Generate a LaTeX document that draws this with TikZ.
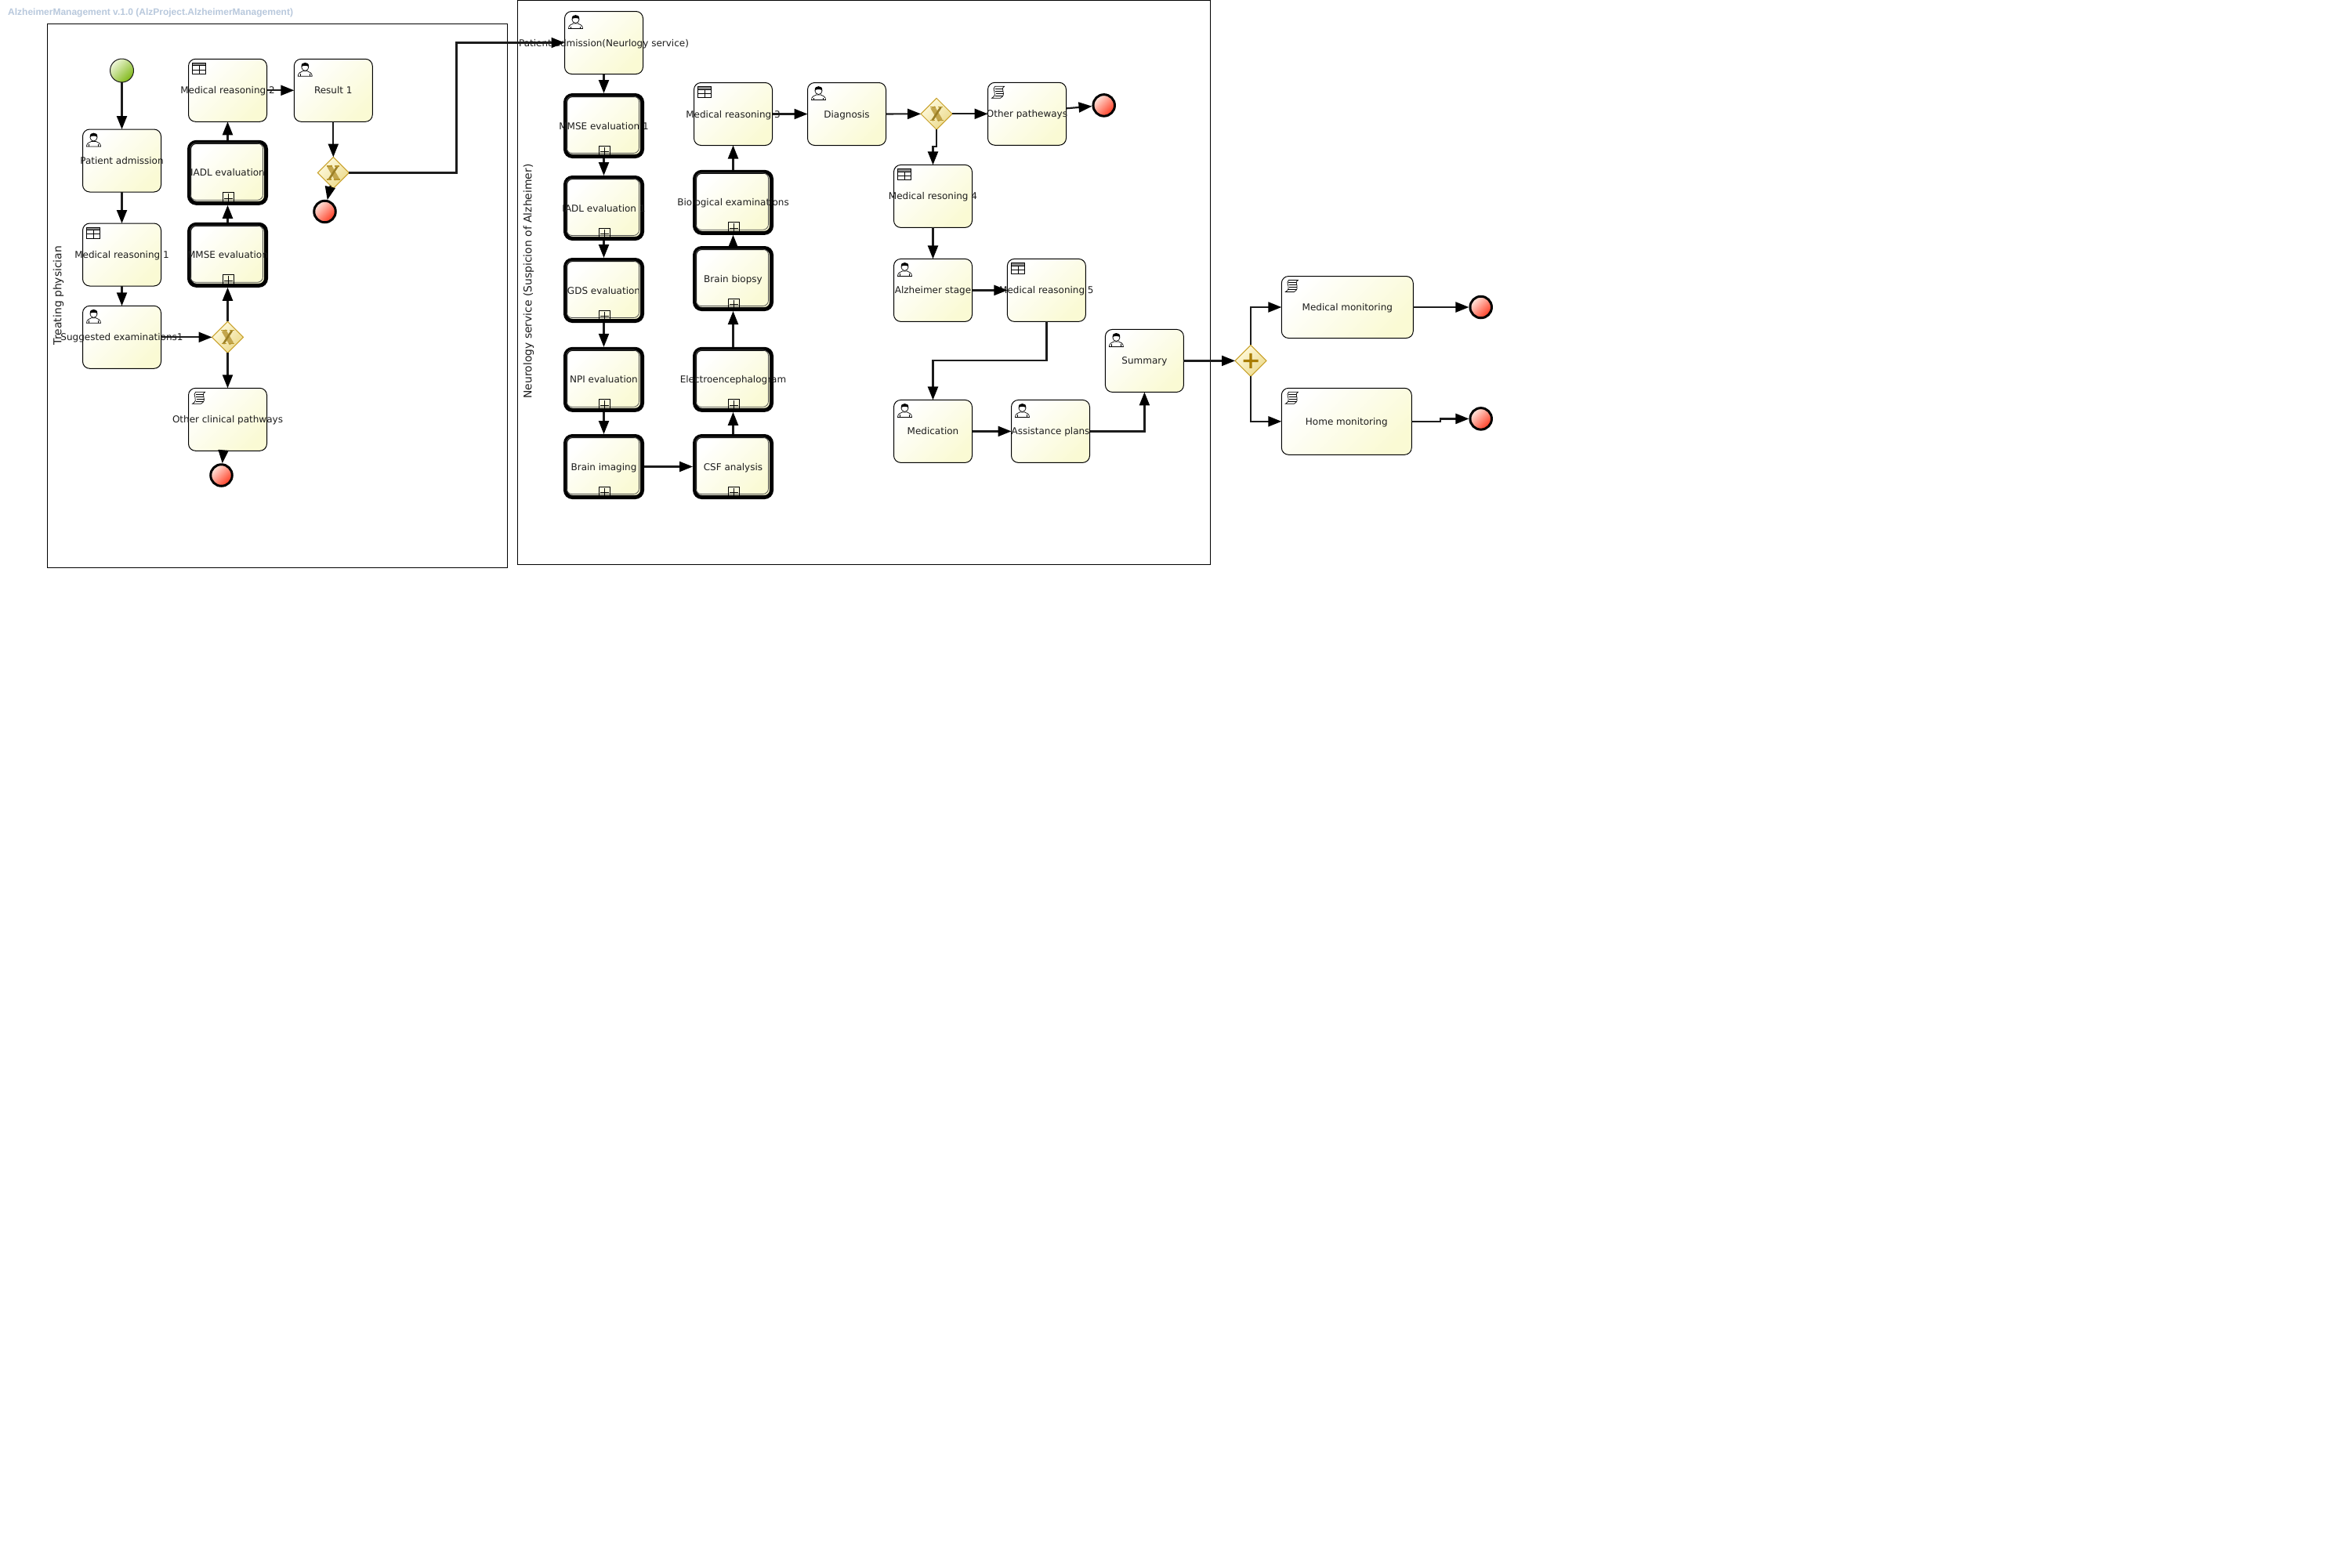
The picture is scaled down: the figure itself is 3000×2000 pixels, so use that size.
\documentclass[tikz,border=0pt]{standalone}
\usepackage{fontspec}
\setmainfont{DejaVu Sans}
\newfontfamily\titlefont{Liberation Sans}
\usetikzlibrary{arrows.meta,shapes.geometric,calc}
\definecolor{taskyellow}{HTML}{FAFAD4}
\definecolor{gwborder}{HTML}{C8A028}
\definecolor{gwlight}{HTML}{FFFBE0}
\definecolor{gwdark}{HTML}{EBD98A}
\definecolor{gold}{HTML}{B8962E}
\definecolor{goldd}{HTML}{A87C00}
\definecolor{ink}{HTML}{1C1C1C}
\definecolor{titleblue}{HTML}{B8C8DC}
\definecolor{endlight}{HTML}{FFE8E0}
\definecolor{enddark}{HTML}{FF3A20}
\definecolor{startlight}{HTML}{EEF6D8}
\definecolor{startdark}{HTML}{80B818}
\tikzset{
  taskbox/.style={rectangle,rounded corners=9pt,draw=black,line width=1pt,outer sep=0pt,inner sep=0pt,
    minimum width=100pt,minimum height=80pt,top color=white,bottom color=taskyellow,shading angle=45,
    text=ink,font=\fontsize{12}{14}\selectfont,text height=11pt,text depth=2pt},
  subbox/.style={taskbox,line width=5pt,minimum width=98pt,minimum height=78pt,outer sep=2.5pt},
  rimline/.style={draw=black!70,line width=.8pt,rounded corners=7pt},
  plusline/.style={draw=black,line width=.9pt},
  lanebox/.style={rectangle,draw=black,line width=1pt,inner sep=0pt,outer sep=0pt},
  lanelabel/.style={rotate=90,inner sep=0pt,text=ink,font=\fontsize{13.9}{16}\selectfont},
  gwbox/.style={diamond,aspect=1,draw=gwborder,line width=1pt,minimum size=40pt,inner sep=0pt,outer sep=0pt,
    top color=gwlight,bottom color=gwdark,shading angle=45},
  startev/.style={circle,draw=ink,line width=1pt,minimum size=30pt,inner sep=0pt,outer sep=0pt,
    top color=startlight,bottom color=startdark,shading angle=45},
  endev/.style={circle,draw=black,line width=3pt,minimum size=27.5pt,inner sep=0pt,outer sep=1.5pt,
    top color=endlight,bottom color=enddark,shading angle=45},
  flow/.style={draw=ink,line width=2.2pt,line join=miter,-{Triangle[length=17pt,width=13pt,color=black]}},
  usericon/.pic={
    \draw[line width=.7pt,fill=white] (5,22) .. controls (5,18) and (8,16.5) .. (11,15.5) -- (17,15.5)
      .. controls (20,16.5) and (23,18) .. (23,22) -- cycle;
    \draw[line width=.6pt] (8,22) -- (8,19) (20,22) -- (20,19);
    \draw[line width=.7pt,fill=white] (14,10.5) circle [radius=4.5];
    \fill[black] (9.2,10) .. controls (9,6) and (11,4.6) .. (14,4.6) .. controls (17,4.6) and (19,6) .. (18.8,10)
      .. controls (17,8) and (11,8) .. (9.2,10) -- cycle;
  },
  tableicon/.pic={
    \fill[black!45] (5,5) rectangle (22,8.5);
    \draw[line width=.7pt] (5,5) rectangle (22,19) (5,8.5) -- (22,8.5) (5,13.7) -- (22,13.7) (13.5,8.5) -- (13.5,19);
  },
  scripticon/.pic={
    \draw[line width=.7pt,fill=white] (9,5) -- (21,5) .. controls (15,8.5) and (25,15) .. (16,20) -- (5,20)
      .. controls (14,15) and (4,8.5) .. (9,5) -- cycle;
    \draw[line width=.6pt] (9,8.2) -- (19,8.2) (9.5,11) -- (19.5,11) (10,13.8) -- (20,13.8) (9,16.8) -- (19,16.8);
  },
  xmark/.pic={
    \draw[gold!85!white,line width=6pt] (-5,-8.5) -- (5,8.5);
    \draw[gold!85!black,line width=2.6pt] (5.5,-8.5) -- (-5.5,8.5);
    \draw[gold,line width=1.3pt] (-8.5,-8.5) -- (-1,-8.5) (2,-8.5) -- (8,-8.5) (-8,8.5) -- (-2,8.5) (1,8.5) -- (8.5,8.5);
  },
  plusmark/.pic={
    \fill[goldd] (-9.5,-1.6) rectangle (9.5,1.6) (-1.6,-9.5) rectangle (1.6,9.5);
  }
}
\newcommand{\ttask}[5]{\node[taskbox](#1) at (#2,#3){\makebox[0pt]{#4}};\pic at (#1.north west){#5};}
\newcommand{\stask}[4]{\node[subbox](#1) at (#2,#3){\makebox[0pt]{#4}};
  \draw[rimline,shift={(#1.center)}] (-47.5,-37.5) rectangle (45,35);
  \draw[plusline,shift={(#1.center)}] (-6,25.5) rectangle (8,38.5) (1,27) -- (1,37.5) (-4.5,33) -- (6.5,33);}
\begin{document}
\begin{tikzpicture}[x=1pt,y=-1pt]
\useasboundingbox (0,0) rectangle (3000,2000);
\node[inner sep=0pt,anchor=west,text=titleblue,font=\titlefont\bfseries\fontsize{12}{14}\selectfont] (title) at (10,16)
  {AlzheimerManagement v.1.0 (AlzProject.AlzheimerManagement)};
% lanes
\node[lanebox,minimum width=586.5pt,minimum height=694pt] (laneA) at (353.8,377) {};
\node[lanebox,minimum width=884pt,minimum height=720pt] (laneB) at (1102,360.5) {};
\node[lanelabel] (laneAt) at (74.5,377) {Treating physician};
\node[lanelabel] (laneBt) at (674.5,359) {Neurology service (Suspicion of Alzheimer)};
% treating physician
\node[startev] (st) at (155.5,90) {};
\ttask{pa}{155.5}{205}{Patient admission}{usericon}
\ttask{mr1}{155.5}{325}{Medical reasoning 1}{tableicon}
\ttask{se}{155.5}{430.3}{Suggested examinations1}{usericon}
\node[gwbox] (gwa) at (290.5,430.3) {};
\pic at (gwa) {xmark};
\stask{mmsea}{290.5}{325.3}{MMSE evaluation}
\stask{iadla}{290.5}{220.3}{IADL evaluation}
\ttask{mr2}{290.5}{115.3}{Medical reasoning 2}{tableicon}
\ttask{res}{425.3}{115.3}{Result 1}{usericon}
\node[gwbox] (gwb) at (425.3,220.5) {};
\pic at (gwb) {xmark};
\node[endev] (enda) at (414.5,270) {};
\ttask{ocp}{290.5}{535.3}{Other clinical pathways}{scripticon}
\node[endev] (endb) at (282.5,606.5) {};
% neurology
\ttask{pan}{770.5}{54.5}{Patient admission(Neurlogy service)}{usericon}
\stask{mmseb}{770.5}{160.5}{MMSE evaluation 1}
\stask{iadlb}{770.5}{265.5}{IADL evaluation 1}
\stask{gds}{770.5}{370.5}{GDS evaluation}
\stask{npi}{770.5}{484.3}{NPI evaluation}
\stask{bi}{770.5}{595.5}{Brain imaging}
\stask{csf}{935.5}{595.5}{CSF analysis}
\stask{eeg}{935.5}{484.3}{Electroencephalogram}
\stask{bb}{935.5}{355.5}{Brain biopsy}
\stask{bio}{935.5}{258.3}{Biological examinations}
\ttask{mr3}{935.5}{145.5}{Medical reasoning 3}{tableicon}
\ttask{dg}{1080.5}{145.5}{Diagnosis}{usericon}
\node[gwbox] (gwc) at (1195,145.3) {};
\pic at (gwc) {xmark};
\ttask{op}{1310.5}{145.3}{Other patheways}{scripticon}
\node[endev] (endc) at (1408.7,134.4) {};
\ttask{mr4}{1190.5}{250.4}{Medical resoning 4}{tableicon}
\ttask{as}{1190.5}{370.4}{Alzheimer stage}{usericon}
\ttask{mr5}{1335.4}{370.4}{Medical reasoning 5}{tableicon}
\ttask{med}{1190.5}{550.4}{Medication}{usericon}
\ttask{ap}{1340.5}{550.4}{Assistance plans}{usericon}
\ttask{sm}{1460.4}{460.4}{Summary}{usericon}
\node[gwbox] (gwd) at (1596,460.4) {};
\pic at (gwd) {plusmark};
\node[taskbox,minimum width=168pt,minimum height=79pt] (mm) at (1719.3,392) {\makebox[0pt]{Medical monitoring}};
\pic at (mm.north west) {scripticon};
\node[taskbox,minimum width=166pt,minimum height=85pt] (hm) at (1718.3,537.8) {\makebox[0pt]{Home monitoring}};
\pic at (hm.north west) {scripticon};
\node[endev] (endd) at (1889.7,392) {};
\node[endev] (ende) at (1889.7,534.4) {};
% bends
\coordinate (b1) at (582.5,54.5);
\coordinate (b2) at (1195,186.8);
\coordinate (b3) at (1190.5,186.8);
\coordinate (b4) at (1335.4,460.2);
\coordinate (b5) at (1190.5,460.2);
\coordinate (b6) at (1596,392);
\coordinate (b7) at (1596,537.8);
\coordinate (b8) at (1838.3,537.8);
\coordinate (b9) at (1838.3,534.4);
% connectors
\draw[flow] (st) -- (pa);
\draw[flow] (pa) -- (mr1);
\draw[flow] (mr1) -- (se);
\draw[flow] (se) -- (gwa);
\draw[flow] (gwa) -- (mmsea);
\draw[flow] (mmsea) -- (iadla);
\draw[flow] (iadla) -- (mr2);
\draw[flow] (mr2) -- (res);
\draw[flow] (res) -- (gwb);
\draw[flow] (gwb) -- (enda);
\draw[flow] (gwa) -- (ocp);
\draw[flow] ($(ocp.south)+(-5.5,0)$) -- (endb);
\draw[flow] (gwb.east) -| (b1) -- (pan.west);
\draw[flow] (pan) -- (mmseb);
\draw[flow] (mmseb) -- (iadlb);
\draw[flow] (iadlb) -- (gds);
\draw[flow] (gds) -- (npi);
\draw[flow] (npi) -- (bi);
\draw[flow] (bi) -- (csf);
\draw[flow] (csf) -- (eeg);
\draw[flow] (eeg) -- (bb);
\draw[flow] (bb) -- (bio);
\draw[flow] (bio) -- (mr3);
\draw[flow] (mr3) -- (dg);
\draw[flow] (dg) -- (gwc);
\draw[flow] (gwc) -- (op);
\draw[flow] ($(op.east)+(0,-7)$) -- (endc);
\draw[flow] (gwc.south) -- (b2) -- (b3) -- (mr4.north);
\draw[flow] (mr4) -- (as);
\draw[flow] (as) -- (mr5);
\draw[flow] (mr5.south) -- (b4) -- (b5) -- (med.north);
\draw[flow] (med) -- (ap);
\draw[flow] (ap.east) -| (sm.south);
\draw[flow] (sm) -- (gwd);
\draw[flow] (gwd.north) -- (b6) -- (mm.west);
\draw[flow] (gwd.south) -- (b7) -- (hm.west);
\draw[flow] (mm.east) -- (endd);
\draw[flow] (hm.east) -- (b8) -- (b9) -- (ende);
\end{tikzpicture}
\end{document}
